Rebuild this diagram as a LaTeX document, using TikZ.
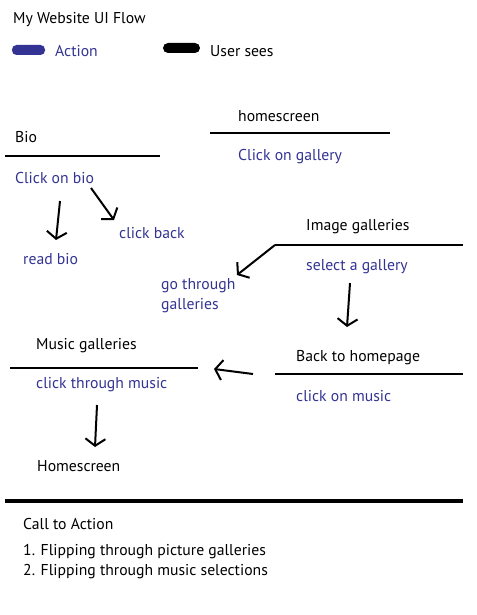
\documentclass[tikz,border=0pt]{standalone}
\usepackage{fontspec}
\setmainfont{PT Sans}
\usetikzlibrary{arrows.meta}
\definecolor{act}{RGB}{51,51,148}
\tikzset{
  seen/.style={anchor=west,inner sep=0pt,yshift=-1.5pt,text=black,font=\fontsize{15.7}{20}\selectfont},
  doing/.style={anchor=west,inner sep=0pt,yshift=-1.5pt,text=act,font=\fontsize{15.7}{20}\selectfont},
  sep/.style={line width=2pt,black},
  flow/.style={line width=2pt,black,-{Straight Barb[length=7pt,width=20pt,line width=2pt]}},
}
\begin{document}
\begin{tikzpicture}[x=1pt,y=-1pt]
\useasboundingbox[fill=white] (0,0) rectangle (476,615);
% title and legend
\node[seen] (title) at (13,18) {My Website UI Flow};
\node[fill=act,rounded corners=4.5pt,minimum width=33pt,minimum height=10pt,inner sep=0pt] (bluekey) at (28.5,50) {};
\node[doing] (actkey) at (55,50) {Action};
\node[fill=black,rounded corners=5pt,minimum width=37pt,minimum height=10pt,inner sep=0pt] (blackkey) at (181.5,48) {};
\node[seen] (seekey) at (210,50) {User sees};
% Bio
\node[seen] (bio) at (15,136) {Bio};
\coordinate (bioL) at (5,156); \coordinate (bioR) at (160,156);
\draw[sep] (bioL) -- (bioR);
\node[doing] (clickbio) at (15,177) {Click on bio};
\node[doing] (readbio) at (23,258) {read bio};
\node[doing] (clickback) at (119,232) {click back};
\coordinate (a1s) at (60,201); \coordinate (a1e) at (56,240);
\draw[flow] (a1s) -- (a1e);
\coordinate (a2s) at (91,188); \coordinate (a2e) at (114,220);
\draw[flow] (a2s) -- (a2e);
% homescreen
\node[seen] (home) at (238,115) {homescreen};
\coordinate (homeL) at (210,133); \coordinate (homeR) at (390,133);
\draw[sep] (homeL) -- (homeR);
\node[doing] (clickgal) at (238,155) {Click on gallery};
% Image galleries
\node[seen] (imggal) at (306,225) {Image galleries};
\coordinate (imgL) at (275,245); \coordinate (imgR) at (463,245);
\draw[sep] (imgL) -- (imgR);
\node[doing] (selgal) at (306,265) {select a gallery};
\node[doing,align=left] (gothrough) at (161,294) {go through\\galleries};
\coordinate (a3e) at (237,275);
\draw[flow] (imgL) -- (a3e);
\coordinate (a4s) at (350,283); \coordinate (a4e) at (347,327);
\draw[flow] (a4s) -- (a4e);
% Back to homepage
\node[seen] (backhome) at (296,356) {Back to homepage};
\coordinate (bhL) at (275,374); \coordinate (bhR) at (463,374);
\draw[sep] (bhL) -- (bhR);
\node[doing] (clickmusic) at (296,395) {click on music};
\coordinate (a5s) at (253,374); \coordinate (a5e) at (214,369);
\draw[flow] (a5s) -- (a5e);
% Music galleries
\node[seen] (musgal) at (36,344) {Music galleries};
\coordinate (musL) at (10,368); \coordinate (musR) at (198,368);
\draw[sep] (musL) -- (musR);
\node[doing] (clickthrough) at (36,383) {click through music};
\coordinate (a6s) at (97,405); \coordinate (a6e) at (95,447);
\draw[flow] (a6s) -- (a6e);
\node[seen] (homescreen) at (37,465) {Homescreen};
% Call to action
\coordinate (cL) at (5,501); \coordinate (cR) at (463,501);
\draw[line width=4pt] (cL) -- (cR);
\node[seen] (cta) at (23,522) {Call to Action};
\node[seen] (cta1) at (23,550) {1. Flipping through picture galleries};
\node[seen] (cta2) at (23,570) {2. Flipping through music selections};
\end{tikzpicture}
\end{document}
